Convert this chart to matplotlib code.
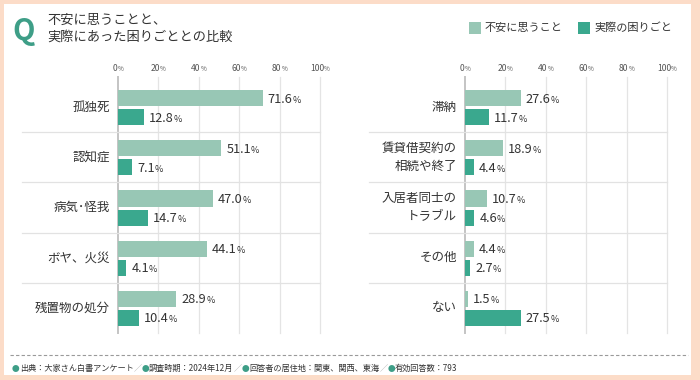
import matplotlib
matplotlib.use("Agg")
import matplotlib.pyplot as plt
from matplotlib.patches import Rectangle
from matplotlib.transforms import IdentityTransform, blended_transform_factory

plt.rcParams["font.family"] = ["Noto Sans CJK JP", "DejaVu Sans"]

# data
left_cats = ["孤独死", "認知症", "病気･怪我", "ボヤ、火災", "残置物の処分"]
left_worry = [71.6, 51.1, 47.0, 44.1, 28.9]
left_actual = [12.8, 7.1, 14.7, 4.1, 10.4]

right_cats = ["滞納", "賃貸借契約の\n相続や終了", "入居者同士の\nトラブル", "その他", "ない"]
right_worry = [27.6, 18.9, 10.7, 4.4, 1.5]
right_actual = [11.7, 4.4, 4.6, 2.7, 27.5]

ticks = [0, 20, 40, 60, 80, 100]
series_names = ["不安に思うこと", "実際の困りごと"]

LIGHT = "#98c7b5"
DARK = "#3aa88e"
GREEN = "#3e9e87"
PEACH = "#fcdcc8"
TEXT = "#333333"

W, H = 700, 380
fig = plt.figure(figsize=(7, 3.8), dpi=100, facecolor=PEACH)
fig.patches.append(Rectangle((4 / W, 1 - 375 / H), 687 / W, 371 / H,
                             transform=fig.transFigure, facecolor="white",
                             edgecolor="none", zorder=-5))
renderer = fig.canvas.get_renderer()


def pieces(x, y, parts, ha="left"):
    """Draw text parts side by side on one baseline; x, y in image pixels."""
    texts, widths = [], []
    for s, size, color in parts:
        t = fig.text(0, 0, s, fontsize=size, color=color, va="baseline",
                     transform=IdentityTransform())
        texts.append(t)
        widths.append(t.get_window_extent(renderer).width)
    cur = x - sum(widths) / 2 if ha == "center" else x
    for t, w in zip(texts, widths):
        t.set_position((cur, H - y))
        cur += w


def panel(x0, cats, worry, actual, sep_left):
    ax = fig.add_axes([x0 / W, 1 - 333 / H, 202 / W, 256 / H])
    ax.set_xlim(0, 100)
    ax.set_ylim(5, -0.1)
    ax.axis("off")
    for t in ticks:
        ax.axvline(t, color="#c4c4c4" if t == 0 else "#e4e4e4",
                   lw=1.4 if t == 0 else 0.9, clip_on=False, zorder=1)
    rows = range(len(cats))
    ax.barh([i + 0.32 for i in rows], worry, height=0.32, color=LIGHT, zorder=2)
    ax.barh([i + 0.70 for i in rows], actual, height=0.32, color=DARK, zorder=2)
    tr = blended_transform_factory(ax.transAxes, ax.transData)
    for k in range(1, len(cats)):
        ax.plot([sep_left, 1], [k, k], color="#e2e2e2", lw=0.9,
                transform=tr, clip_on=False, zorder=1)
    for i, c in enumerate(cats):
        ax.text(-0.04, i + 0.5, c, transform=tr, ha="right", va="center",
                fontsize=9, color=TEXT, linespacing=1.45)
    for i in rows:
        for v, yc in ((worry[i], i + 0.32), (actual[i], i + 0.70)):
            px, py = ax.transData.transform((v, yc))
            pieces(px + 5, H - py + 4.5, [(f"{v:.1f}", 9.2, TEXT), ("%", 6.5, TEXT)])
    for t in ticks:
        px, _ = ax.transData.transform((t, 0))
        pieces(px, 71, [(str(t), 6.2, "#555555"), ("%", 4.6, "#555555")], ha="center")


panel(118, left_cats, left_worry, left_actual, -0.475)
panel(465, right_cats, right_worry, right_actual, -0.473)

# title
fig.text(12 / W, 1 - 31 / H, "Q", fontsize=21, fontweight="bold", color=GREEN,
         va="center", ha="left")
fig.text(47 / W, 1 - 29 / H, "不安に思うことと、\n実際にあった困りごととの比較",
         fontsize=9.5, color=TEXT, va="center", ha="left", linespacing=1.4)

# legend
for sx, name, col in ((469, series_names[0], LIGHT), (578, series_names[1], DARK)):
    fig.patches.append(Rectangle((sx / W, 1 - 34 / H), 12 / W, 12 / H,
                                 transform=fig.transFigure, facecolor=col,
                                 edgecolor="none"))
    fig.text((sx + 16) / W, 1 - 28 / H, name, fontsize=8, color=TEXT,
             va="center", ha="left")

# footer
fig.add_artist(plt.Line2D([10 / W, 688 / W], [1 - 355 / H, 1 - 355 / H],
                          transform=fig.transFigure, color="#9a9a9a", lw=0.8,
                          linestyle=(0, (3, 2))))
foot = []
items = ["出典：大家さん白書アンケート", "調査時期：2024年12月",
         "回答者の居住地：関東、関西、東海", "有効回答数：793"]
for k, s in enumerate(items):
    foot.append(("●", 5.5, GREEN))
    foot.append((s, 5.9, TEXT))
    if k < len(items) - 1:
        foot.append(("／", 5.9, "#aaaaaa"))
pieces(12, 371, foot)

fig.savefig("out.png", dpi=100, facecolor=PEACH)
